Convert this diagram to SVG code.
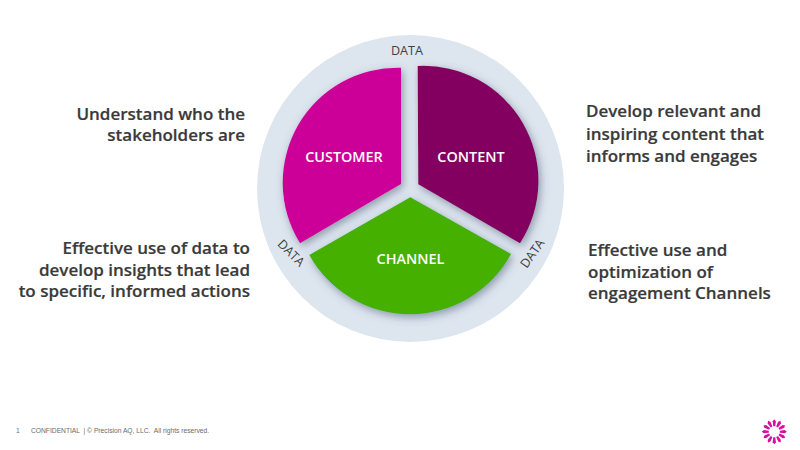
<svg xmlns="http://www.w3.org/2000/svg" width="800" height="450" viewBox="0 0 800 450">
<style>
.h{font-family:"Open Sans","Liberation Sans",sans-serif;font-weight:600;font-size:17px;fill:#3a3a3a;stroke:#3a3a3a;stroke-width:.2px}
.s{font-family:"Open Sans","Liberation Sans",sans-serif;font-weight:600;font-size:14.4px;fill:#fff;text-anchor:middle}
.d{font-family:"Open Sans","Liberation Sans",sans-serif;font-size:12.6px;fill:#3f3f3f;text-anchor:middle}
.f{font-family:"Liberation Sans",sans-serif;font-size:6.7px;fill:#6a6a6a}
.e{text-anchor:end}
.p{fill:#d5109f}
</style>
<defs>
<filter id="sh" x="-20%" y="-20%" width="140%" height="140%"><feDropShadow dx="2" dy="3" stdDeviation="4" flood-color="#4a5a70" flood-opacity=".55"/></filter>
<path id="pt" d="M-1.6-10.5 0-12.5 1.6-10.5 1-5.5H-1Z"/>
</defs>
<rect width="800" height="450" fill="#fff"/>
<g id="ring"><circle cx="410.5" cy="188.5" r="153.5" fill="#dde5ef"/>
<text class="d" x="407" y="54.500">DATA</text>
<text class="d" transform="translate(288 256) rotate(45)">DATA</text>
<text class="d" transform="translate(536 256) rotate(-55)">DATA</text></g>
<g id="customer"><path d="M401 67.7V184L300 243.3A115 115 0 0 1 401 67.7Z" fill="#cc0099" filter="url(#sh)"/><text class="s" x="344" y="162">CUSTOMER</text></g>
<g id="content"><path d="M417.7 66 418.3 184.3 520 243.3A115 115 0 0 0 417.7 66Z" fill="#840060" filter="url(#sh)"/><text class="s" x="471" y="162">CONTENT</text></g>
<g id="channel"><path d="M410.3 197.3 511 254A115 115 0 0 1 309.3 255Z" fill="#44b000" filter="url(#sh)"/><text class="s" x="410.500" y="264">CHANNEL</text></g>
<g id="notes">
<text class="h e" x="245" y="120">Understand who the</text>
<text class="h e" x="245" y="141">stakeholders are</text>
<text class="h" x="586" y="117">Develop relevant and</text>
<text class="h" x="586" y="140">inspiring content that</text>
<text class="h" x="586" y="162">informs and engages</text>
<text class="h e" x="250" y="254">Effective use of data to</text>
<text class="h e" x="250" y="276">develop insights that lead</text>
<text class="h e" x="250" y="297">to specific, informed actions</text>
<text class="h" x="588" y="256">Effective use and</text>
<text class="h" x="588" y="278">optimization of</text>
<text class="h" x="588" y="299">engagement Channels</text>
</g>
<g id="footer"><text class="f" x="16" y="433">1</text><text class="f" x="31" y="433" xml:space="preserve">CONFIDENTIAL  | © Precision AQ, LLC.  All rights reserved.</text></g>
<g id="logo" class="p" transform="translate(774.3 431.7)">
<use href="#pt"/><use href="#pt" transform="rotate(30)"/><use href="#pt" transform="rotate(60)"/><use href="#pt" transform="rotate(90)"/><use href="#pt" transform="rotate(120)"/><use href="#pt" transform="rotate(150)"/><use href="#pt" transform="rotate(180)"/><use href="#pt" transform="rotate(210)"/><use href="#pt" transform="rotate(240)"/><use href="#pt" transform="rotate(270)"/><use href="#pt" transform="rotate(300)"/><use href="#pt" transform="rotate(330)"/>
</g>
</svg>
